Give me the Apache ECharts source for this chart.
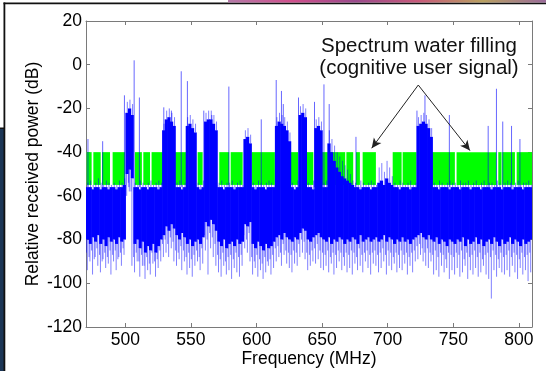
<!DOCTYPE html>
<html><head><meta charset="utf-8">
<script src="https://cdn.jsdelivr.net/npm/echarts@6/dist/echarts.min.js"></script>
<style>html,body{margin:0;padding:0;background:#fff}#c{width:546px;height:371px}</style>
</head><body><div id="c"></div>
<script>
// ---- data ----
const xTicks = [500, 550, 600, 650, 700, 750, 800];
const firstBin = 470, binWidth = 2; // MHz bins from 470 to 810
// top of dense blue trace per bin (dB)
const coreHi = [
-56,-56,-57,-56,-56,-57,-56,-56,-57,-56,
-56,-57,-56,-56,-55,-22,-20,-23,-56,-56,
-57,-56,-56,-57,-56,-56,-56,-57,-56,-30,
-25,-24,-26,-28,-56,-56,-57,-56,-28,-27,
-29,-31,-56,-57,-56,-26,-25,-25,-27,-30,
-56,-56,-57,-56,-56,-56,-57,-56,-56,-56,
-34,-33,-36,-56,-57,-56,-56,-56,-57,-56,
-56,-56,-28,-26,-27,-28,-30,-35,-56,-57,
-56,-23,-22,-24,-56,-56,-57,-29,-28,-30,
-56,-56,-36,-40,-44,-47,-49,-51,-52,-53,
-54,-55,-56,-56,-57,-56,-56,-56,-57,-56,
-56,-54,-53,-55,-52,-54,-55,-56,-56,-57,
-56,-56,-56,-57,-56,-56,-28,-27,-26,-27,
-29,-33,-56,-56,-57,-56,-56,-56,-57,-56,
-56,-56,-57,-56,-56,-56,-57,-56,-56,-56,
-57,-56,-56,-56,-57,-56,-56,-56,-57,-56,
-56,-56,-57,-56,-56,-56,-57,-56,-56,-56];
// bottom of dense blue trace per bin (dB)
const coreLo = [
-80,-82,-79,-81,-78,-82,-80,-83,-79,-81,
-80,-82,-79,-81,-80,-50,-48,-52,-82,-80,
-84,-81,-86,-83,-85,-82,-86,-83,-80,-78,
-74,-76,-73,-75,-78,-80,-77,-79,-82,-80,
-83,-81,-80,-82,-79,-72,-74,-71,-73,-76,
-81,-83,-80,-84,-82,-81,-83,-80,-82,-81,
-73,-74,-72,-82,-84,-81,-83,-85,-82,-84,
-83,-81,-79,-78,-80,-77,-79,-80,-81,-79,
-80,-77,-75,-76,-80,-81,-79,-78,-77,-79,
-80,-81,-79,-82,-80,-81,-79,-80,-82,-80,
-81,-79,-80,-82,-78,-81,-80,-79,-81,-80,
-79,-81,-80,-78,-81,-79,-80,-82,-80,-81,
-79,-81,-80,-82,-80,-79,-78,-77,-79,-80,
-78,-80,-81,-79,-82,-80,-81,-83,-80,-81,
-82,-80,-81,-79,-83,-80,-82,-81,-79,-82,
-80,-83,-81,-80,-82,-79,-81,-83,-80,-82,
-81,-79,-82,-80,-81,-83,-80,-82,-81,-80];
// deepest sparse excursion per bin (dB)
const tailLo = [
-94,-90,-96,-88,-92,-95,-89,-93,-91,-96,
-90,-94,-88,-92,-87,-60,-58,-92,-95,-90,
-97,-92,-98,-94,-96,-91,-97,-93,-90,-88,
-86,-88,-84,-90,-92,-89,-94,-90,-96,-93,
-97,-92,-90,-94,-91,-85,-96,-84,-88,-92,
-95,-97,-92,-96,-94,-98,-93,-95,-97,-92,
-84,-86,-90,-96,-93,-97,-94,-98,-95,-92,
-96,-93,-90,-88,-92,-87,-91,-93,-95,-91,
-92,-88,-86,-89,-94,-92,-90,-91,-89,-93,
-94,-92,-95,-91,-96,-93,-90,-94,-92,-95,
-93,-96,-91,-94,-92,-95,-90,-93,-96,-91,
-92,-95,-93,-90,-96,-92,-94,-91,-95,-93,
-94,-91,-96,-92,-95,-90,-89,-87,-90,-92,
-93,-90,-96,-94,-97,-92,-95,-93,-98,-94,
-96,-93,-97,-95,-92,-98,-94,-96,-93,-97,
-95,-92,-96,-98,-107,-94,-97,-93,-95,-96,
-94,-97,-92,-95,-98,-93,-96,-94,-99,-95];
// second (shorter) downward excursion per bin (dB)
const tailMid = [
-86,-88,-85,-89,-84,-87,-90,-86,-88,-85,
-87,-85,-89,-86,-84,-55,-54,-58,-88,-86,
-90,-87,-92,-88,-91,-86,-90,-89,-85,-82,
-80,-82,-79,-81,-85,-86,-83,-85,-88,-86,
-89,-87,-85,-88,-84,-78,-80,-77,-79,-82,
-87,-89,-86,-90,-88,-87,-89,-86,-88,-87,
-78,-80,-77,-88,-90,-87,-89,-91,-88,-90,
-89,-87,-84,-83,-86,-82,-85,-86,-87,-85,
-86,-82,-80,-81,-86,-87,-85,-84,-82,-85,
-86,-87,-85,-88,-86,-87,-85,-86,-88,-86,
-87,-85,-86,-88,-84,-87,-86,-85,-87,-86,
-85,-87,-86,-84,-87,-85,-86,-88,-86,-87,
-85,-87,-86,-88,-86,-85,-83,-82,-84,-86,
-84,-86,-87,-85,-88,-86,-87,-89,-86,-87,
-88,-86,-87,-85,-89,-86,-88,-87,-85,-88,
-86,-89,-87,-86,-88,-85,-87,-89,-86,-88,
-87,-85,-88,-86,-87,-89,-86,-88,-87,-86];
// highest sparse upward excursion per bin (dB)
const tailHi = [
-54,-53,-55,-54,-52,-54,-55,-53,-54,-55,
-54,-55,-53,-54,-52,-17,-16,-18,-54,-55,
-53,-54,-55,-54,-53,-55,-54,-53,-54,-27,
-21,-20,-22,-24,-54,-53,-55,-54,-24,-23,
-25,-27,-54,-55,-53,-22,-21,-21,-23,-26,
-54,-53,-55,-54,-54,-53,-55,-54,-53,-55,
-30,-29,-32,-54,-55,-53,-54,-55,-54,-53,
-54,-55,-24,-22,-23,-24,-26,-31,-54,-55,
-53,-19,-18,-20,-54,-55,-53,-25,-24,-26,
-54,-53,-30,-34,-37,-40,-42,-44,-46,-48,
-50,-53,-54,-55,-53,-54,-55,-54,-53,-54,
-55,-47,-45,-49,-44,-47,-51,-54,-55,-53,
-54,-55,-54,-53,-55,-54,-24,-23,-22,-23,
-25,-29,-54,-55,-53,-54,-55,-54,-53,-54,
-54,-55,-53,-54,-54,-53,-55,-54,-53,-55,
-54,-53,-55,-54,-54,-55,-53,-54,-55,-54,
-53,-54,-55,-54,-53,-55,-54,-54,-53,-55];
// isolated tall spikes: frequency (MHz) and peak (dB)
const spikeFreq = [471.5,482.7,499.3,502.7,506.7,510.7,529.3,535.1,542.6,547.3,559.8,565.9,578.9,603.6,615,619,620.4,632,644.2,651.4,655.4,675.8,722.3,728.4,747,776.6,782.9,787.7,794.4,800.8];
const spikeTop  = [-34,-35,-14,-22,2,-15,-19.5,-21,-3,-7.5,-21,-23,-10,-25,-7,-12,-18,-15,-17,-9,-18,-33,-21,-14,-23,-28,-11,-26,-28,-34];
// water-filling (green) blocks: start / end frequency (MHz)
const fillStart = [470.5,475.6,482.2,490.3,507.3,513.7,520,537.5,555.1,571.6,580.3,596.3,626.2,638.2,649.6,668.5,675.8,680.9,703.8,711.4,733.5,752.5,784.3,787.3,798.3];
const fillEnd   = [474.3,481.2,488.3,499.7,512.6,518.8,529.5,546.7,558.9,579.2,589.4,614,631.8,643.3,667.6,673.7,678.8,691,710.6,722,751.2,783,786.8,797,810];
const fillTop = -40, fillBottom = -55;
// annotation arrows: [apexFreq, apexDb, headFreq, headDb]
const arrows = [[723.3,-9.3,687.8,-38.2],[723.3,-9.3,762.7,-39.3]];

// ---- build ----
const bandData = coreHi.map((h, i) => [firstBin + i * binWidth, h, coreLo[i], tailLo[i], tailMid[i], tailHi[i]]);
const spikeData = spikeFreq.map((f, i) => [f, spikeTop[i]]);
const fillData = fillStart.map((s, i) => [s, fillEnd[i]]);
const FONT = '"Liberation Sans", Arial, sans-serif';
const chart = echarts.init(document.getElementById('c'), null, {renderer: 'canvas'});
const axisGrey = '#7a7a7a';
function xAx(pos, labels) {
  return {
    type: 'value', min: 470, max: 810, position: pos,
    axisLine: {show: true, onZero: false, lineStyle: {color: axisGrey, width: 1}},
    axisTick: {show: true, inside: true, length: 4, customValues: xTicks, lineStyle: {color: axisGrey}},
    axisLabel: labels ? {customValues: xTicks, color: '#000', fontSize: 17.5, fontFamily: FONT, margin: 4} : {show: false},
    splitLine: {show: false}
  };
}
function yAx(pos, labels) {
  return {
    type: 'value', min: -120, max: 20, interval: 20, position: pos,
    axisLine: {show: true, onZero: false, lineStyle: {color: axisGrey, width: 1}},
    axisTick: {show: true, inside: true, length: 4, lineStyle: {color: axisGrey}},
    axisLabel: labels ? {color: '#000', fontSize: 17.5, fontFamily: FONT, margin: 4} : {show: false},
    splitLine: {show: false}
  };
}
const xb = xAx('bottom', true);
xb.name = 'Frequency (MHz)'; xb.nameLocation = 'middle'; xb.nameGap = 23.5; xb.nameMoveOverlap = false;
xb.nameTextStyle = {color: '#000', fontSize: 17.5, fontFamily: FONT};
const yl = yAx('left', true);
yl.name = 'Relative received power (dB)'; yl.nameLocation = 'middle'; yl.nameGap = 44; yl.nameMoveOverlap = false;
yl.nameTextStyle = {color: '#000', fontSize: 17.5, fontFamily: FONT};

chart.setOption({
  animation: false,
  backgroundColor: '#fff',
  grid: {left: 86, right: 14, top: 21, bottom: 44, containLabel: false, outerBoundsMode: 'none'},
  xAxis: [xb, xAx('top', false)],
  yAxis: [yl, yAx('right', false)],
  series: [{
    type: 'custom', name: 'fill', clip: true, z: 1,
    data: fillData,
    renderItem: function (params, api) {
      const a = api.coord([api.value(0), fillTop]);
      const b = api.coord([api.value(1), fillBottom]);
      return {type: 'rect', shape: {x: a[0], y: a[1], width: b[0] - a[0], height: b[1] - a[1]},
              style: {fill: '#00ff00'}};
    }
  }, {
    type: 'custom', name: 'band', clip: true, z: 2,
    data: bandData,
    renderItem: function (params, api) {
      const f = api.value(0);
      const a = api.coord([f, api.value(1)]);
      const b = api.coord([f + binWidth, api.value(2)]);
      const t1 = api.coord([f + binWidth * 0.5, api.value(3)]);
      const t2 = api.coord([f + binWidth * 0.15, api.value(4)]);
      const t3 = api.coord([f + binWidth * 0.75, api.value(5)]);
      const ws = {stroke: 'rgba(0,0,255,0.5)', lineWidth: 1};
      return {type: 'group', children: [
        {type: 'rect', shape: {x: a[0], y: a[1], width: b[0] - a[0] + 0.6, height: b[1] - a[1]},
         style: {fill: '#0000ff'}},
        {type: 'line', shape: {x1: t1[0], y1: b[1], x2: t1[0], y2: t1[1]}, style: ws},
        {type: 'line', shape: {x1: t2[0], y1: b[1], x2: t2[0], y2: t2[1]}, style: ws},
        {type: 'line', shape: {x1: t3[0], y1: a[1], x2: t3[0], y2: t3[1]}, style: ws}
      ]};
    }
  }, {
    type: 'custom', name: 'spikes', clip: true, z: 3,
    data: spikeData,
    renderItem: function (params, api) {
      const a = api.coord([api.value(0), -56]);
      const b = api.coord([api.value(0), api.value(1)]);
      return {type: 'line', shape: {x1: a[0], y1: a[1], x2: b[0], y2: b[1]},
              style: {stroke: 'rgba(0,0,255,0.6)', lineWidth: 1}};
    }
  }, {
    type: 'line', data: [], z: 5,
    markLine: {
      silent: true, symbol: ['none', 'arrow'], symbolSize: [7, 10],
      label: {show: false},
      lineStyle: {color: '#222', width: 1, type: 'solid'},
      data: arrows.map(a => [{coord: [a[0], a[1]]}, {coord: [a[2], a[3]]}])
    }
  }],
  graphic: [
    {type: 'rect', shape: {x: 0, y: 129, width: 4, height: 242}, style: {fill: '#1c3656'}, z: 10},
    {type: 'rect', shape: {x: 0, y: 127.5, width: 4, height: 1.5}, style: {fill: '#111'}, z: 10},
    {type: 'rect', shape: {x: 3.5, y: 2.5, width: 1.8, height: 369}, style: {fill: '#111'}, z: 10},
    {type: 'rect', shape: {x: 3.5, y: 2.5, width: 543, height: 1.8}, style: {fill: '#111'}, z: 10},
    {type: 'rect', shape: {x: 228, y: 0, width: 318, height: 2.5}, z: 10,
     style: {fill: new echarts.graphic.LinearGradient(0, 0, 1, 0, [
       {offset: 0, color: '#b47aa8'}, {offset: 0.2, color: '#d04f8c'}, {offset: 0.4, color: '#9a4a8c'},
       {offset: 0.6, color: '#c85a7a'}, {offset: 0.8, color: '#b8a060'}, {offset: 1, color: '#9a6a9a'}])}},
    {type: 'text', z: 10, style: {text: 'Spectrum water filling', x: 419, y: 46, textAlign: 'center',
      textVerticalAlign: 'middle', font: '20.5px ' + FONT, fill: '#111'}},
    {type: 'text', z: 10, style: {text: '(cognitive user signal)', x: 419, y: 68, textAlign: 'center',
      textVerticalAlign: 'middle', font: '20.5px ' + FONT, fill: '#111'}}
  ]
});
</script></body></html>
